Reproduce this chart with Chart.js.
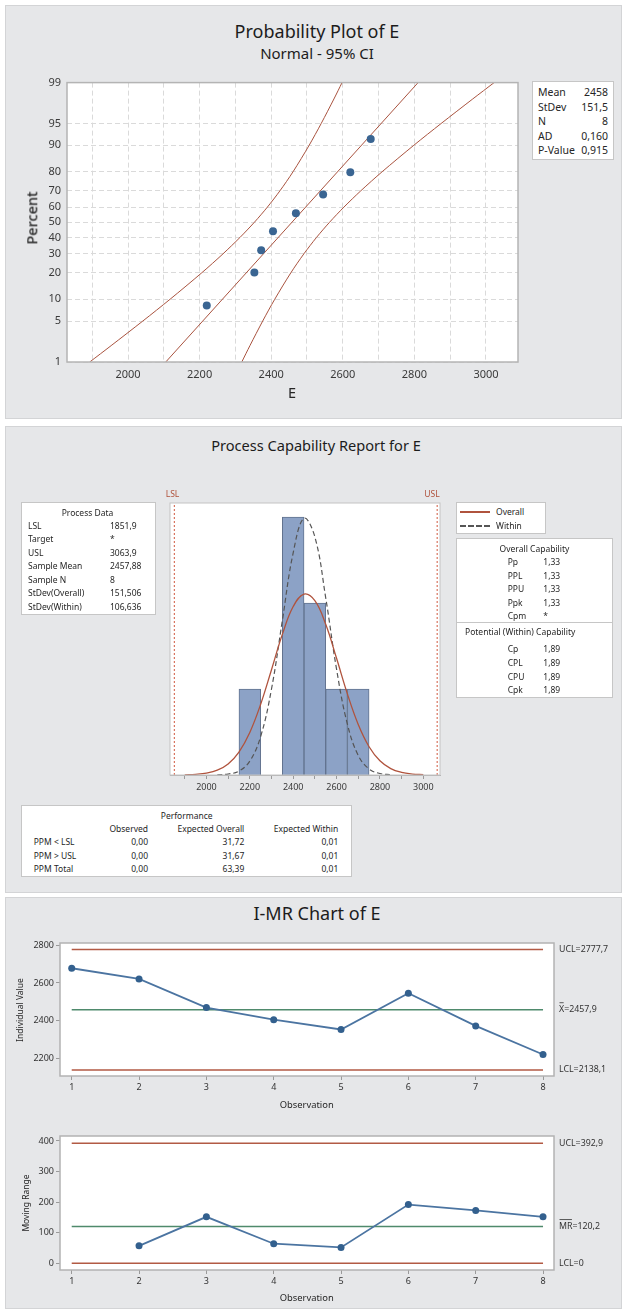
<!DOCTYPE html>
<html>
<head>
<meta charset="utf-8">
<title>E</title>
<script src="https://cdn.jsdelivr.net/npm/chart.js@4.4.1/dist/chart.umd.min.js"></script>
<style>
  body { margin: 0; background: #fff; }
  #page { position: relative; width: 622px; height: 1309px; overflow: hidden; font-family: "Noto Sans", sans-serif; color: #262626; }
  .panel { position: absolute; left: 5px; width: 617px; background: #e6e7e9; border: 1px solid #d3d4d6; box-sizing: border-box; }
  .box { position: absolute; background: #fff; border: 1px solid #c6c6c6; box-sizing: border-box; }
  .txt { position: absolute; white-space: nowrap; line-height: 1.2; }
  canvas { position: absolute; }
</style>
</head>
<body>
<div id="page">
  <div class="panel" style="top:5px;height:414px"></div>
  <div class="panel" style="top:426px;height:467px"></div>
  <div class="panel" style="top:897px;height:412px"></div>

  <div class="box" style="left:532px;top:81px;width:82px;height:79px"></div>
  <div class="box" style="left:21px;top:502px;width:135px;height:113px"></div>
  <div class="box" style="left:456px;top:502px;width:90px;height:32px"></div>
  <div class="box" style="left:456px;top:538px;width:157px;height:160px"></div>
  <div style="position:absolute;left:457px;top:622px;width:155px;border-top:1px solid #c6c6c6"></div>
  <div class="box" style="left:21px;top:805px;width:331px;height:72px"></div>
  <div style="position:absolute;left:460px;top:511px;width:30px;border-top:2px solid #b0533d"></div>
  <div style="position:absolute;left:460px;top:525px;width:30px;border-top:2px dashed #555"></div>

  <canvas id="probChart" width="520" height="320" style="left:5px;top:70px"></canvas>
  <canvas id="capChart" width="290" height="305" style="left:160px;top:495px"></canvas>
  <canvas id="iChart" width="617" height="170" style="left:5px;top:930px"></canvas>
  <canvas id="mrChart" width="617" height="170" style="left:5px;top:1124px"></canvas>
</div>

<script>
// ---- probability plot ----
const PP_VALUES = [2220, 2353, 2372, 2405, 2469, 2545, 2621, 2678];
const PP_PERCENT = [8.3, 20.2, 32.1, 44.0, 56.0, 67.9, 79.8, 91.7];
const FIT_PCT = [1, 99];
const FIT_X = [2105.4, 2810.3];
const CI_PCT = [1, 2, 5, 10, 20, 30, 40, 50, 60, 70, 80, 90, 95, 98, 99];
const CI_LOWER = [1893.1, 1952.9, 2041.2, 2117.5, 2205.9, 2265.5, 2312.6, 2352.9, 2389.4, 2424.4, 2461.0, 2505.9, 2539.6, 2575.2, 2597.9];
const CI_UPPER = [2317.8, 2340.6, 2376.2, 2409.9, 2454.8, 2491.4, 2526.4, 2562.9, 2603.2, 2650.3, 2709.8, 2798.2, 2874.6, 2962.9, 3022.7];
const PCT_TICKS = [1, 5, 10, 20, 30, 40, 50, 60, 70, 80, 90, 95, 99];
const PP_X_GRID = [1900, 2000, 2100, 2200, 2300, 2400, 2500, 2600, 2700, 2800, 2900, 3000];
const STATS_LABELS = ['Mean', 'StDev', 'N', 'AD', 'P-Value'];
const STATS_VALUES = ['2458', '151,5', '8', '0,160', '0,915'];

// ---- capability histogram ----
const BIN_CENTERS = [2200, 2300, 2400, 2500, 2600, 2700];
const BIN_COUNTS = [1, 0, 3, 2, 1, 1];
const LSL = 1851.9;
const USL = 3063.9;
const OVERALL_X = [1900, 1950, 2000, 2050, 2100, 2150, 2200, 2250, 2300, 2350, 2400, 2450, 2500, 2550, 2600, 2650, 2700, 2750, 2800, 2850, 2900, 2950, 3000];
const OVERALL_Y = [0.002, 0.008, 0.022, 0.056, 0.129, 0.267, 0.495, 0.822, 1.224, 1.635, 1.959, 2.104, 2.027, 1.752, 1.357, 0.943, 0.588, 0.329, 0.165, 0.074, 0.030, 0.011, 0.004];
const WITHIN_X = [2050, 2100, 2150, 2200, 2250, 2300, 2350, 2400, 2450, 2500, 2550, 2600, 2650, 2700, 2750, 2800, 2850];
const WITHIN_Y = [0.002, 0.011, 0.046, 0.161, 0.448, 1.000, 1.794, 2.583, 2.985, 2.769, 2.061, 1.231, 0.591, 0.227, 0.070, 0.017, 0.004];
const CAP_X_TICKS = [1900, 2000, 2100, 2200, 2300, 2400, 2500, 2600, 2700, 2800, 2900, 3000];

const PROCESS_LABELS = ['LSL', 'Target', 'USL', 'Sample Mean', 'Sample N', 'StDev(Overall)', 'StDev(Within)'];
const PROCESS_VALUES = ['1851,9', '*', '3063,9', '2457,88', '8', '151,506', '106,636'];
const OVERALL_LABELS = ['Pp', 'PPL', 'PPU', 'Ppk', 'Cpm'];
const OVERALL_VALUES = ['1,33', '1,33', '1,33', '1,33', '*'];
const WITHIN_LABELS = ['Cp', 'CPL', 'CPU', 'Cpk'];
const WITHIN_VALUES = ['1,89', '1,89', '1,89', '1,89'];
const PERF_ROWS = ['PPM < LSL', 'PPM > USL', 'PPM Total'];
const PERF_OBSERVED = ['0,00', '0,00', '0,00'];
const PERF_EXP_OVERALL = ['31,72', '31,67', '63,39'];
const PERF_EXP_WITHIN = ['0,01', '0,01', '0,01'];

// ---- I-MR ----
const OBS = [1, 2, 3, 4, 5, 6, 7, 8];
const INDIVIDUAL = [2678, 2621, 2469, 2405, 2353, 2545, 2372, 2220];
const MOVING_RANGE = [null, 57, 152, 64, 52, 192, 173, 152];
const I_UCL = 2777.7, I_CL = 2457.9, I_LCL = 2138.1;
const MR_UCL = 392.9, MR_CL = 120.2, MR_LCL = 0;
const I_Y_TICKS = [2200, 2400, 2600, 2800];
const MR_Y_TICKS = [0, 100, 200, 300, 400];

const RED = '#a9533f';
const LIMIT_RED = '#b25a44';
const CENTER_GREEN = '#4f8a6c';
const BLUE = '#3a6592';
const FONT = "'Noto Sans', sans-serif";

Chart.defaults.font.family = FONT;
Chart.defaults.color = '#333';
Chart.defaults.animation = false;

const page = document.getElementById('page');

function put(str, x, y, size, align, extra) {
  extra = extra || {};
  const el = document.createElement('div');
  el.className = 'txt';
  el.textContent = str;
  el.style.left = x + 'px';
  el.style.top = y + 'px';
  el.style.fontSize = size + 'px';
  const shift = align === 'left' ? '0' : align === 'right' ? '-100%' : '-50%';
  el.style.transform = 'translate(' + shift + ', -50%)' + (extra.rotate ? ' rotate(-90deg)' : '');
  if (extra.color) el.style.color = extra.color;
  if (extra.weight) el.style.fontWeight = extra.weight;
  page.appendChild(el);
}

function comma(v) {
  return String(v).replace('.', ',');
}

// inverse standard normal cdf (Acklam)
function probit(p) {
  const a = [-39.69683028665376, 220.9460984245205, -275.9285104469687, 138.3577518672690, -30.66479806614716, 2.506628277459239];
  const b = [-54.47609879822406, 161.5858368580409, -155.6989798598866, 66.80131188771972, -13.28068155288572];
  const c = [-0.007784894002430293, -0.3223964580411365, -2.400758277161838, -2.549732539343734, 4.374664141464968, 2.938163982698783];
  const d = [0.007784695709041462, 0.3224671290700398, 2.445134137142996, 3.754408661907416];
  const lowTail = 0.02425;
  if (p < lowTail) {
    const q = Math.sqrt(-2 * Math.log(p));
    return (((((c[0] * q + c[1]) * q + c[2]) * q + c[3]) * q + c[4]) * q + c[5]) / ((((d[0] * q + d[1]) * q + d[2]) * q + d[3]) * q + 1);
  }
  if (p > 1 - lowTail) {
    const q = Math.sqrt(-2 * Math.log(1 - p));
    return -(((((c[0] * q + c[1]) * q + c[2]) * q + c[3]) * q + c[4]) * q + c[5]) / ((((d[0] * q + d[1]) * q + d[2]) * q + d[3]) * q + 1);
  }
  const q = p - 0.5, r = q * q;
  return (((((a[0] * r + a[1]) * r + a[2]) * r + a[3]) * r + a[4]) * r + a[5]) * q / (((((b[0] * r + b[1]) * r + b[2]) * r + b[3]) * r + b[4]) * r + 1);
}

// normal probability axis: percent values placed on a z-score scale
class ProbitScale extends Chart.LinearScale {
  static id = 'probit';
  static defaults = {};

  determineDataLimits() {
    this.min = this.options.min;
    this.max = this.options.max;
  }

  buildTicks() {
    return PCT_TICKS.map(v => ({ value: v }));
  }

  configure() {
    super.configure();
    this._zLow = probit(this.min / 100);
    this._zHigh = probit(this.max / 100);
  }

  getPixelForValue(value) {
    const z = probit(value / 100);
    return this.getPixelForDecimal((z - this._zLow) / (this._zHigh - this._zLow));
  }

  getValueForPixel(pixel) {
    // bisection back to percent
    const target = this._zLow + this.getDecimalForPixel(pixel) * (this._zHigh - this._zLow);
    let lo = 1e-6, hi = 1 - 1e-6;
    for (let i = 0; i < 50; i++) {
      const mid = (lo + hi) / 2;
      if (probit(mid) < target) lo = mid; else hi = mid;
    }
    return lo * 100;
  }
}
Chart.register(ProbitScale);

const plotFrame = {
  id: 'plotFrame',
  beforeDraw(chart) {
    const a = chart.chartArea, ctx = chart.ctx;
    ctx.save();
    ctx.fillStyle = '#fff';
    ctx.fillRect(a.left, a.top, a.right - a.left, a.bottom - a.top);
    ctx.restore();
  },
  afterDraw(chart, args, opts) {
    const a = chart.chartArea, ctx = chart.ctx;
    ctx.save();
    ctx.strokeStyle = opts.color || '#b9b9b9';
    ctx.lineWidth = opts.width || 1;
    ctx.strokeRect(a.left, a.top, a.right - a.left, a.bottom - a.top);
    ctx.restore();
  }
};

// text at the right end of each control limit
const limitLabels = {
  id: 'limitLabels',
  afterDraw(chart, args, opts) {
    const ctx = chart.ctx, y = chart.scales.y;
    const x = chart.chartArea.right + 5;
    ctx.save();
    ctx.font = '8.8px ' + FONT;
    ctx.fillStyle = '#333';
    ctx.textBaseline = 'middle';
    opts.items.forEach(item => {
      const py = y.getPixelForValue(item.value);
      const str = item.bar ? item.bar + '=' + comma(item.value) : item.name + '=' + comma(item.value);
      ctx.fillText(str, x, py);
      if (item.bar) {
        const w = ctx.measureText(item.bar).width;
        ctx.strokeStyle = '#333';
        ctx.lineWidth = 0.8;
        ctx.beginPath();
        ctx.moveTo(x + 0.5, py - 7);
        ctx.lineTo(x + w - 0.5, py - 7);
        ctx.stroke();
      }
    });
    ctx.restore();
  }
};

function points(xs, ys) {
  return xs.map((x, i) => ({ x: x, y: ys[i] }));
}

// ---------- Probability Plot of E ----------
new Chart(document.getElementById('probChart'), {
  type: 'line',
  data: {
    datasets: [
      {
        data: points(PP_VALUES, PP_PERCENT),
        showLine: false,
        pointRadius: 4,
        pointBackgroundColor: BLUE,
        pointBorderWidth: 0
      },
      {
        data: points(FIT_X, FIT_PCT),
        borderColor: RED,
        borderWidth: 1,
        pointRadius: 0
      },
      {
        data: points(CI_LOWER, CI_PCT),
        borderColor: RED,
        borderWidth: 1,
        pointRadius: 0,
        tension: 0.3
      },
      {
        data: points(CI_UPPER, CI_PCT),
        borderColor: RED,
        borderWidth: 1,
        pointRadius: 0,
        tension: 0.3
      }
    ]
  },
  options: {
    responsive: false,
    events: [],
    layout: { padding: { top: 11, right: 7, left: 0, bottom: 0 } },
    plugins: { legend: { display: false }, tooltip: { enabled: false }, plotFrame: { color: '#b4b4b4', width: 1.5 } },
    scales: {
      x: {
        type: 'linear',
        min: 1829.6,
        max: 3089.4,
        afterBuildTicks: s => { s.ticks = PP_X_GRID.map(v => ({ value: v })); },
        afterFit: s => { s.height = 28; },
        ticks: { callback: v => (v % 200 === 0 ? v : ''), font: { size: 11 }, color: '#3a3a3a', autoSkip: false, maxRotation: 0, padding: 6 },
        grid: { color: '#dadada', drawTicks: false },
        border: { display: false, dash: [5, 3] }
      },
      y: {
        type: 'probit',
        min: 1,
        max: 99,
        afterFit: s => { s.width = 62; },
        ticks: { callback: v => v, font: { size: 11 }, color: '#3a3a3a', autoSkip: false, padding: 6 },
        grid: { color: '#dadada', drawTicks: false },
        border: { display: false, dash: [5, 3] }
      }
    }
  },
  plugins: [plotFrame]
});

put('Probability Plot of E', 317, 32, 18, 'center', { color: '#1c1c1c' });
put('Normal - 95% CI', 317, 53, 15, 'center', { color: '#1c1c1c' });
put('Percent', 32, 218, 14.5, 'center', { rotate: true, weight: 500 });
put('E', 292, 393, 14.5);
STATS_LABELS.forEach((lab, i) => {
  put(lab, 538, 92 + i * 14.6, 10.5, 'left');
  put(STATS_VALUES[i], 608, 92 + i * 14.6, 10.5, 'right');
});

// ---------- Process Capability Report for E ----------
new Chart(document.getElementById('capChart'), {
  type: 'bar',
  data: {
    datasets: [
      {
        type: 'line',
        data: points(OVERALL_X, OVERALL_Y),
        borderColor: '#b0533d',
        borderWidth: 1.3,
        pointRadius: 0,
        tension: 0.4
      },
      {
        type: 'line',
        data: points(WITHIN_X, WITHIN_Y),
        borderColor: '#555',
        borderWidth: 1.2,
        borderDash: [5, 3],
        pointRadius: 0,
        tension: 0.4
      },
      {
        type: 'line',
        data: [{ x: LSL, y: 0 }, { x: LSL, y: 3.2 }],
        borderColor: '#d0583f',
        borderWidth: 1,
        borderDash: [2, 2],
        pointRadius: 0
      },
      {
        type: 'line',
        data: [{ x: USL, y: 0 }, { x: USL, y: 3.2 }],
        borderColor: '#d0583f',
        borderWidth: 1,
        borderDash: [2, 2],
        pointRadius: 0
      },
      {
        type: 'bar',
        data: points(BIN_CENTERS, BIN_COUNTS),
        backgroundColor: '#8ca2c6',
        borderColor: '#62738f',
        borderWidth: 1,
        barPercentage: 1,
        categoryPercentage: 1,
        order: 5
      }
    ]
  },
  options: {
    responsive: false,
    events: [],
    layout: { padding: { top: 8, right: 10, left: 10, bottom: 0 } },
    plugins: { legend: { display: false }, tooltip: { enabled: false }, plotFrame: { color: '#c4c4c4', width: 1 } },
    scales: {
      x: {
        type: 'linear',
        offset: false,
        min: 1832,
        max: 3077,
        afterBuildTicks: s => { s.ticks = CAP_X_TICKS.map(v => ({ value: v })); },
        afterFit: s => { s.height = 25; },
        ticks: { callback: v => (v % 200 === 0 ? v : ''), font: { size: 9 }, color: '#3a3a3a', autoSkip: false, maxRotation: 0, padding: 3 },
        grid: { offset: false, drawOnChartArea: false, tickLength: 4, color: '#9a9a9a' },
        border: { color: '#b0b0b0' }
      },
      y: { display: false, min: 0, max: 3.163 }
    }
  },
  plugins: [plotFrame]
});

put('Process Capability Report for E', 316, 446, 14.6, 'center', { color: '#1c1c1c' });
put('LSL', 172.5, 494, 8.6, 'center', { color: '#b0533d' });
put('USL', 432, 494, 8.6, 'center', { color: '#b0533d' });

put('Process Data', 87.5, 512.5, 8.5);
PROCESS_LABELS.forEach((lab, i) => {
  put(lab, 28, 525.5 + i * 13.55, 8.5, 'left');
  put(PROCESS_VALUES[i], 110, 525.5 + i * 13.55, 8.5, 'left');
});

put('Overall', 496, 512.3, 8.5, 'left');
put('Within', 496, 525.7, 8.5, 'left');

put('Overall Capability', 534.5, 549, 8.5);
OVERALL_LABELS.forEach((lab, i) => {
  put(lab, 507.7, 561.9 + i * 13.6, 8.5, 'left');
  put(OVERALL_VALUES[i], 543.3, 561.9 + i * 13.6, 8.5, 'left');
});
put('Potential (Within) Capability', 465, 632.3, 8.5, 'left');
WITHIN_LABELS.forEach((lab, i) => {
  put(lab, 507.7, 649.3 + i * 13.6, 8.5, 'left');
  put(WITHIN_VALUES[i], 543.3, 649.3 + i * 13.6, 8.5, 'left');
});

put('Performance', 186.7, 815.7, 8.5);
put('Observed', 148, 829, 8.5, 'right');
put('Expected Overall', 244.3, 829, 8.5, 'right');
put('Expected Within', 338.3, 829, 8.5, 'right');
PERF_ROWS.forEach((lab, i) => {
  const y = 842.4 + i * 13.3;
  put(lab, 33.7, y, 8.5, 'left');
  put(PERF_OBSERVED[i], 148, y, 8.5, 'right');
  put(PERF_EXP_OVERALL[i], 244.3, y, 8.5, 'right');
  put(PERF_EXP_WITHIN[i], 338.3, y, 8.5, 'right');
});

// ---------- I-MR Chart of E ----------
function limitLine(value, color) {
  return {
    data: [{ x: OBS[0], y: value }, { x: OBS[OBS.length - 1], y: value }],
    borderColor: color,
    borderWidth: 1.5,
    pointRadius: 0
  };
}

function controlChart(canvasId, series, ucl, cl, lcl, yMin, yMax, yTicks, labelItems, topPad) {
  return new Chart(document.getElementById(canvasId), {
    type: 'line',
    data: {
      datasets: [
        {
          data: points(OBS, series),
          borderColor: '#4b74a1',
          borderWidth: 1.8,
          pointRadius: 3.5,
          pointBackgroundColor: '#33608e',
          pointBorderWidth: 0
        },
        limitLine(ucl, LIMIT_RED),
        limitLine(cl, CENTER_GREEN),
        limitLine(lcl, LIMIT_RED)
      ]
    },
    options: {
      responsive: false,
      events: [],
      layout: { padding: { top: topPad, right: 68, left: 0, bottom: 0 } },
      plugins: {
        legend: { display: false },
        tooltip: { enabled: false },
        plotFrame: { color: '#b3b3b3', width: 1.5 },
        limitLabels: { items: labelItems }
      },
      scales: {
        x: {
          type: 'linear',
          min: 0.826,
          max: 8.163,
          afterBuildTicks: s => { s.ticks = OBS.map(v => ({ value: v })); },
          afterFit: s => { s.height = 24; },
          ticks: { callback: v => v, font: { size: 9 }, color: '#333', autoSkip: false, maxRotation: 0, padding: 2 },
          grid: { drawOnChartArea: false, tickLength: 4, color: '#9a9a9a' },
          border: { display: false }
        },
        y: {
          min: yMin,
          max: yMax,
          afterBuildTicks: s => { s.ticks = yTicks.map(v => ({ value: v })); },
          afterFit: s => { s.width = 55; },
          ticks: { callback: v => v, font: { size: 9 }, color: '#333', autoSkip: false, padding: 2 },
          grid: { drawOnChartArea: false, tickLength: 4, color: '#9a9a9a' },
          border: { display: false }
        }
      }
    },
    plugins: [plotFrame, limitLabels]
  });
}

controlChart('iChart', INDIVIDUAL, I_UCL, I_CL, I_LCL, 2106, 2812, I_Y_TICKS, [
  { name: 'UCL', value: I_UCL },
  { bar: 'X', value: I_CL },
  { name: 'LCL', value: I_LCL }
], 13);

controlChart('mrChart', MOVING_RANGE, MR_UCL, MR_CL, MR_LCL, -21.9, 416.3, MR_Y_TICKS, [
  { name: 'UCL', value: MR_UCL },
  { bar: 'MR', value: MR_CL },
  { name: 'LCL', value: MR_LCL }
], 12);

put('I-MR Chart of E', 317, 914, 18, 'center', { color: '#1c1c1c' });
put('Individual Value', 20, 1010, 8.5, 'center', { rotate: true });
put('Observation', 306.7, 1105, 9.4);
put('Moving Range', 25.5, 1203, 8.5, 'center', { rotate: true });
put('Observation', 306.7, 1297.7, 9.4);
</script>
</body>
</html>
